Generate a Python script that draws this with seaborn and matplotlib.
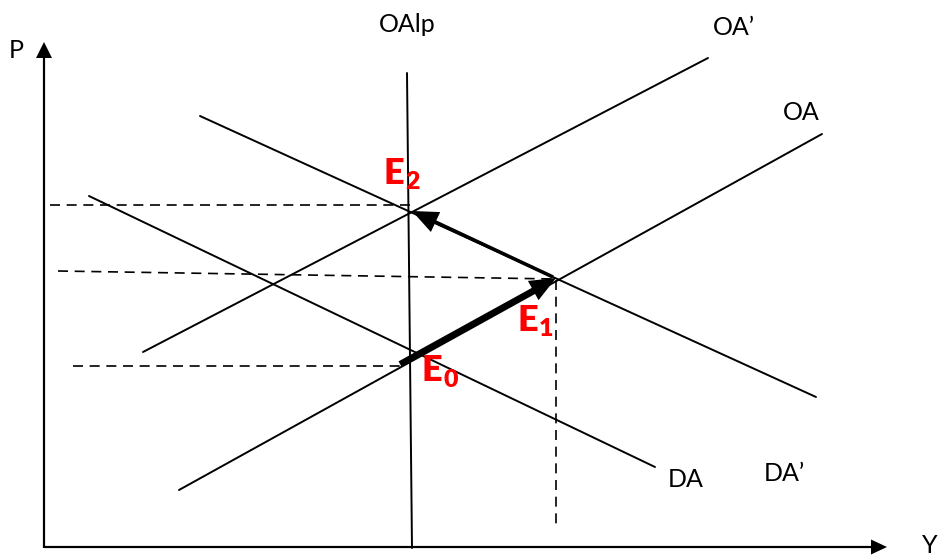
import matplotlib
matplotlib.use("Agg")
import matplotlib.pyplot as plt
import seaborn as sns
import pandas as pd

sns.set_theme(style="white")
plt.rcParams['font.family'] = ['Lato', 'DejaVu Sans']

# Curves (diagram units: x to the right, y downward, as in the picture)
curve_names = ["OAlp", "OA'", "OA", "DA", "DA'"]
curve_x0 = [407, 143, 179, 89, 200]
curve_y0 = [73, 352, 490, 196, 116]
curve_x1 = [412, 708, 822, 655, 816]
curve_y1 = [548, 58, 134, 467, 397]

# Curve labels
label_texts = ["OAlp", "OA\u2019", "OA", "DA", "DA\u2019", "P"]
label_x = [379, 713, 783, 668, 764, 9]
label_y = [32, 35, 120, 487, 481, 58]

# Equilibrium labels
eq_main = ["E", "E", "E"]
eq_sub = ["2", "1", "0"]
eq_x = [384, 517, 422]
eq_y = [184, 331, 381]
eq_sub_x = [405, 539, 443]
eq_sub_y = [189, 336, 387]

# Dashed guide lines
guide_x0 = [50, 58, 73, 556]
guide_y0 = [205, 271, 366, 280]
guide_x1 = [410, 556, 405, 556]
guide_y1 = [205, 279, 366, 525]

# Movement arrows (E0 -> E1, E1 -> E2)
move_x0 = [400, 553]
move_y0 = [364, 277]
move_x1 = [556, 412]
move_y1 = [278, 211]
move_w = [6.0, 3.6]

# Axes of the diagram
origin = (44, 547)
y_axis_top = 42
x_axis_right = 887

fig = plt.figure(figsize=(9.38, 5.58), dpi=100)
ax = fig.add_axes([0, 0, 1, 1])
ax.set_xlim(0, 938)
ax.set_ylim(558, 0)
ax.axis("off")

for i in range(len(curve_names)):
    df = pd.DataFrame({"x": [curve_x0[i], curve_x1[i]], "y": [curve_y0[i], curve_y1[i]]})
    sns.lineplot(data=df, x="x", y="y", ax=ax, color="black", lw=1.4, sort=False, estimator=None)

for i in range(len(guide_x0)):
    df = pd.DataFrame({"x": [guide_x0[i], guide_x1[i]], "y": [guide_y0[i], guide_y1[i]]})
    sns.lineplot(data=df, x="x", y="y", ax=ax, color="black", lw=1.2, sort=False,
                 estimator=None, linestyle=(0, (6, 4)))

ax.set_xlim(0, 938)
ax.set_ylim(558, 0)

# axis arrows
ax.arrow(origin[0], origin[1] + 1, 0, y_axis_top - origin[1] - 1, width=2.2, head_width=16,
         head_length=16, length_includes_head=True, color="black", lw=0)
ax.arrow(origin[0], origin[1], x_axis_right - origin[0], 0, width=2.2, head_width=15,
         head_length=16, length_includes_head=True, color="black", lw=0)

for i in range(len(move_x0)):
    ax.arrow(move_x0[i], move_y0[i], move_x1[i] - move_x0[i], move_y1[i] - move_y0[i],
             width=move_w[i], head_width=22, head_length=26, length_includes_head=True,
             color="black", lw=0)

for t, x, y in zip(label_texts, label_x, label_y):
    ax.text(x, y, t, ha="left", va="baseline", fontsize=18, color="black")
ax.text(922, 557, "Y", ha="left", va="bottom", fontsize=18, color="black")

for m, s, x, y, sx, sy in zip(eq_main, eq_sub, eq_x, eq_y, eq_sub_x, eq_sub_y):
    ax.text(x, y, m, ha="left", va="baseline", fontsize=26, fontweight="heavy", color="#ff0000")
    ax.text(sx, sy, s, ha="left", va="baseline", fontsize=18, fontweight="heavy", color="#ff0000")

fig.savefig("out.png", dpi=100)
